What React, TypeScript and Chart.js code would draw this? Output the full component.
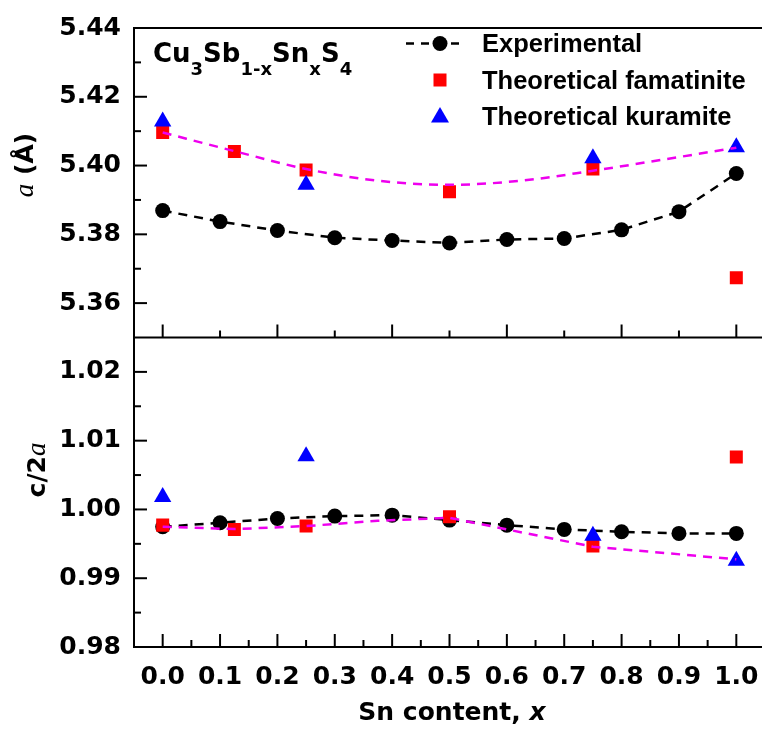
import React, { useEffect, useRef } from 'react';
import { Chart, registerables } from 'chart.js';

Chart.register(...registerables);

// ---------- data ----------
const xExp = [0, 0.1, 0.2, 0.3, 0.4, 0.5, 0.6, 0.7, 0.8, 0.9, 1.0];
const aExp = [5.3869, 5.3837, 5.3811, 5.379, 5.3782, 5.3775, 5.3785, 5.3788, 5.3813, 5.3866, 5.3977];
const cExp = [0.99748, 0.99806, 0.99869, 0.99903, 0.99917, 0.99845, 0.99772, 0.9971, 0.99675, 0.99652, 0.99652];

const xFam = [0, 0.125, 0.25, 0.5, 0.75, 1.0];
const aFam = [5.4096, 5.4041, 5.3987, 5.3924, 5.399, 5.3674];
const cFam = [0.99772, 0.9971, 0.99758, 0.99893, 0.99468, 1.00763];

const xKur = [0, 0.25, 0.75, 1.0];
const aKur = [5.4128, 5.3944, 5.4021, 5.4053];
const cKur = [1.00181, 1.00775, 0.99616, 0.99254];

const xFitA = [0, 0.125, 0.25, 0.375, 0.5, 0.625, 0.75, 0.875, 1.0];
const aFit = [5.4096, 5.4042, 5.399, 5.3956, 5.3944, 5.3956, 5.3985, 5.4018, 5.4052];

const xFitC = [0, 0.125, 0.25, 0.375, 0.5, 0.6, 0.75, 1.0];
const cFit = [0.99748, 0.99714, 0.99758, 0.99835, 0.99878, 0.9971, 0.99458, 0.99275];

// ---------- ticks ----------
const xTickLabels = [0, 0.1, 0.2, 0.3, 0.4, 0.5, 0.6, 0.7, 0.8, 0.9, 1.0];
const xMinorBottom = [0.05, 0.15, 0.25, 0.35, 0.45, 0.55, 0.65, 0.75, 0.85, 0.95];
const xMajorTopPanel = [0, 0.2, 0.4, 0.6, 0.8, 1.0];
const xMinorTopPanel = [0.1, 0.3, 0.5, 0.7, 0.9];
const aTicks = [5.36, 5.38, 5.4, 5.42, 5.44];
const aMinor = [5.37, 5.39, 5.41, 5.43];
const cTicks = [0.98, 0.99, 1.0, 1.01, 1.02];
const cMinor = [0.985, 0.995, 1.005, 1.015];

const RED = '#ff0000';
const BLUE = '#0000ff';
const MAG = '#ee00ee';
const TICK_FONT = { family: '"DejaVu Sans"', size: 25, weight: 'bold' as const };

const pts = (xs: number[], ys: number[]) => xs.map((x, i) => ({ x, y: ys[i] }));

type Seg = { t: string; font: string; dy?: number };

function drawSegs(ctx: CanvasRenderingContext2D, segs: Seg[], x: number, y: number, align: 'left' | 'center') {
  let total = 0;
  for (const s of segs) {
    ctx.font = s.font;
    total += ctx.measureText(s.t).width;
  }
  let cx = align === 'center' ? x - total / 2 : x;
  ctx.textAlign = 'left';
  ctx.textBaseline = 'alphabetic';
  for (const s of segs) {
    ctx.font = s.font;
    ctx.fillText(s.t, cx, y + (s.dy || 0));
    cx += ctx.measureText(s.t).width;
  }
}

const framePlugin = {
  id: 'framePlugin',
  afterDraw(chart: any) {
    const { ctx, chartArea: ca, scales } = chart;
    const xs = scales.x;
    const yT = scales.yTop;
    const yB = scales.yBot;
    const mid = yT.bottom;
    ctx.save();
    ctx.strokeStyle = '#000';
    ctx.fillStyle = '#000';
    ctx.lineWidth = 2;
    ctx.setLineDash([]);
    const ln = (x1: number, y1: number, x2: number, y2: number) => {
      ctx.beginPath();
      ctx.moveTo(x1, y1);
      ctx.lineTo(x2, y2);
      ctx.stroke();
    };
    // frame + divider
    ctx.strokeRect(ca.left, ca.top, ca.right - ca.left, ca.bottom - ca.top);
    ln(ca.left, mid, ca.right, mid);
    const MAJ = 13;
    const MIN = 7;
    // left ticks
    aTicks.forEach((v) => { const p = yT.getPixelForValue(v); if (p > ca.top + 1) ln(ca.left, p, ca.left + MAJ, p); });
    aMinor.forEach((v) => { const p = yT.getPixelForValue(v); ln(ca.left, p, ca.left + MIN, p); });
    cTicks.forEach((v) => { const p = yB.getPixelForValue(v); if (p < ca.bottom - 1) ln(ca.left, p, ca.left + MAJ, p); });
    cMinor.forEach((v) => { const p = yB.getPixelForValue(v); ln(ca.left, p, ca.left + MIN, p); });
    // bottom x ticks
    xTickLabels.forEach((v) => { const p = xs.getPixelForValue(v); ln(p, ca.bottom, p, ca.bottom - MAJ); });
    xMinorBottom.forEach((v) => { const p = xs.getPixelForValue(v); ln(p, ca.bottom, p, ca.bottom - MIN); });
    // top panel x ticks
    xMajorTopPanel.forEach((v) => { const p = xs.getPixelForValue(v); ln(p, mid, p, mid - MAJ); });
    xMinorTopPanel.forEach((v) => { const p = xs.getPixelForValue(v); ln(p, mid, p, mid - MIN); });

    // compound title
    const mainF = 'bold 26px "DejaVu Sans"';
    const subF = 'bold 18px "DejaVu Sans"';
    drawSegs(ctx, [
      { t: 'Cu', font: mainF },
      { t: '3', font: subF, dy: 13 },
      { t: 'Sb', font: mainF },
      { t: '1-x', font: subF, dy: 13 },
      { t: 'Sn', font: mainF },
      { t: 'x', font: subF, dy: 13 },
      { t: 'S', font: mainF },
      { t: '4', font: subF, dy: 13 },
    ], 153, 62, 'left');

    // legend
    const legF = 'bold 25.5px "Liberation Sans"';
    ctx.font = legF;
    ctx.textAlign = 'left';
    ctx.textBaseline = 'alphabetic';
    ctx.fillText('Experimental', 482, 52);
    ctx.fillText('Theoretical famatinite', 482, 89);
    ctx.fillText('Theoretical kuramite', 482, 125);
    ctx.lineWidth = 2.5;
    ctx.setLineDash([8, 7]);
    ln(406, 43.5, 462, 43.5);
    ctx.setLineDash([]);
    ctx.beginPath();
    ctx.arc(440, 43.5, 7.5, 0, Math.PI * 2);
    ctx.fill();
    ctx.fillStyle = RED;
    ctx.fillRect(433.5, 73.5, 13, 13);
    ctx.fillStyle = BLUE;
    ctx.beginPath();
    ctx.moveTo(440, 107);
    ctx.lineTo(449, 122.5);
    ctx.lineTo(431, 122.5);
    ctx.closePath();
    ctx.fill();

    // axis titles
    ctx.fillStyle = '#000';
    ctx.save();
    ctx.translate(33, 165);
    ctx.rotate(-Math.PI / 2);
    drawSegs(ctx, [
      { t: 'a', font: 'italic 27px "Liberation Serif"' },
      { t: ' (Å)', font: 'bold 25px "DejaVu Sans"' },
    ], 0, 0, 'center');
    ctx.restore();
    ctx.save();
    ctx.translate(45, 470);
    ctx.rotate(-Math.PI / 2);
    drawSegs(ctx, [
      { t: 'c/2', font: 'bold 25px "DejaVu Sans"' },
      { t: 'a', font: 'italic 27px "Liberation Serif"' },
    ], 0, 0, 'center');
    ctx.restore();
    drawSegs(ctx, [
      { t: 'Sn content, ', font: 'bold 25px "DejaVu Sans"' },
      { t: 'x', font: 'bold italic 25px "DejaVu Sans"' },
    ], 452, 720, 'center');
    ctx.restore();
  },
};

export default function App() {
  const ref = useRef<HTMLCanvasElement | null>(null);
  useEffect(() => {
    if (!ref.current) return;
    const yCommon = {
      type: 'linear' as const,
      position: 'left' as const,
      stack: 'panels',
      stackWeight: 1,
      grid: { display: false, drawTicks: false },
      border: { display: false },
      afterFit: (s: any) => { s.width = 134; },
    };
    const chart = new Chart(ref.current, {
      type: 'line',
      data: {
        datasets: [
          { data: pts(xFitA, aFit), yAxisID: 'yTop', borderColor: MAG, borderWidth: 2.5, borderDash: [9, 7], pointRadius: 0, tension: 0.4, cubicInterpolationMode: 'monotone', order: 0, fill: false },
          { data: pts(xFitC, cFit), yAxisID: 'yBot', borderColor: MAG, borderWidth: 2.5, borderDash: [9, 7], pointRadius: 0, tension: 0, order: 0, fill: false },
          { data: pts(xKur, aKur), yAxisID: 'yTop', showLine: false, pointStyle: 'triangle', pointRadius: 10, pointBackgroundColor: BLUE, pointBorderColor: BLUE, pointBorderWidth: 0, order: 1 },
          { data: pts(xKur, cKur), yAxisID: 'yBot', showLine: false, pointStyle: 'triangle', pointRadius: 10, pointBackgroundColor: BLUE, pointBorderColor: BLUE, pointBorderWidth: 0, order: 1 },
          { data: pts(xFam, aFam), yAxisID: 'yTop', showLine: false, pointStyle: 'rect', pointRadius: 9.2, pointBackgroundColor: RED, pointBorderColor: RED, pointBorderWidth: 0, order: 2 },
          { data: pts(xFam, cFam), yAxisID: 'yBot', showLine: false, pointStyle: 'rect', pointRadius: 9.2, pointBackgroundColor: RED, pointBorderColor: RED, pointBorderWidth: 0, order: 2 },
          { data: pts(xExp, aExp), yAxisID: 'yTop', borderColor: '#000', borderWidth: 2.5, borderDash: [9, 7], tension: 0, pointStyle: 'circle', pointRadius: 7.5, pointBackgroundColor: '#000', pointBorderColor: '#000', pointBorderWidth: 0, order: 3, fill: false },
          { data: pts(xExp, cExp), yAxisID: 'yBot', borderColor: '#000', borderWidth: 2.5, borderDash: [9, 7], tension: 0, pointStyle: 'circle', pointRadius: 7.5, pointBackgroundColor: '#000', pointBorderColor: '#000', pointBorderWidth: 0, order: 3, fill: false },
        ] as any,
      },
      options: {
        responsive: false,
        devicePixelRatio: 1,
        animation: false,
        layout: { padding: { top: 27, left: 0, right: 0, bottom: 0 } },
        plugins: { legend: { display: false }, tooltip: { enabled: false } },
        scales: {
          x: {
            type: 'linear',
            position: 'bottom',
            min: -0.05,
            max: 1.05,
            grid: { display: false, drawTicks: false },
            border: { display: false },
            ticks: {
              font: TICK_FONT,
              color: '#000',
              padding: 15,
              autoSkip: false,
              maxRotation: 0,
              callback: (v: any) => Number(v).toFixed(1),
            },
            afterBuildTicks: (s: any) => { s.ticks = xTickLabels.map((v) => ({ value: v })); },
            afterFit: (s: any) => { s.height = 84; },
          },
          yBot: {
            ...yCommon,
            min: 0.98,
            max: 1.025,
            ticks: { font: TICK_FONT, color: '#000', padding: 13, autoSkip: false, callback: (v: any) => Number(v).toFixed(2) },
            afterBuildTicks: (s: any) => { s.ticks = cTicks.map((v) => ({ value: v })); },
          },
          yTop: {
            ...yCommon,
            min: 5.35,
            max: 5.44,
            ticks: { font: TICK_FONT, color: '#000', padding: 13, autoSkip: false, callback: (v: any) => Number(v).toFixed(2) },
            afterBuildTicks: (s: any) => { s.ticks = aTicks.map((v) => ({ value: v })); },
          },
        } as any,
      },
      plugins: [framePlugin],
    });
    return () => chart.destroy();
  }, []);
  return (
    <div style={{ position: 'fixed', left: 0, top: 0, width: 762, height: 731, overflow: 'hidden', background: '#fff' }}>
      <canvas ref={ref} width={775} height={731} style={{ display: 'block', width: 775, height: 731 }} />
    </div>
  );
}
